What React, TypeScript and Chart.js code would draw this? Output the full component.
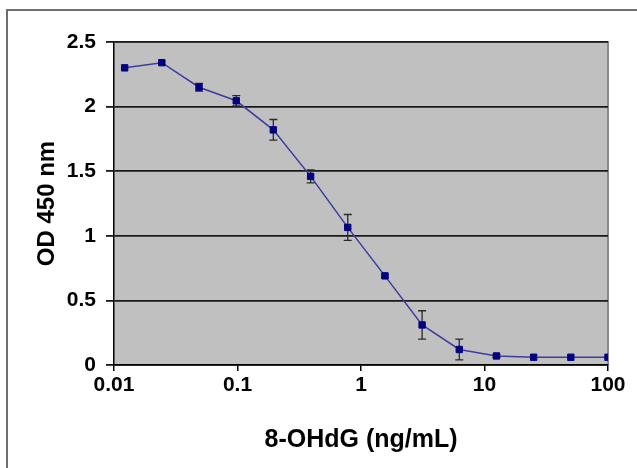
import React, { useEffect, useRef } from "react";
import { Chart, registerables } from "chart.js";

Chart.register(...registerables);

const concentrations = [0.0122, 0.0244, 0.0488, 0.0977, 0.195, 0.391, 0.781, 1.5625, 3.125, 6.25, 12.5, 25, 50, 100];
const odValues = [2.3, 2.34, 2.15, 2.045, 1.82, 1.46, 1.065, 0.69, 0.31, 0.12, 0.07, 0.06, 0.06, 0.06];
const odErrors = [0, 0, 0.03, 0.04, 0.08, 0.05, 0.1, 0.01, 0.11, 0.08, 0.01, 0, 0, 0];
const xTickValues = [0.01, 0.1, 1, 10, 100];
const xTickLabels = ["0.01", "0.1", "1", "10", "100"];

const FONT = "'Liberation Sans', Arial, sans-serif";

const framePlugin = {
  id: "frame",
  beforeDraw(chart: any) {
    const { ctx, chartArea } = chart;
    ctx.save();
    ctx.fillStyle = "#ffffff";
    ctx.fillRect(0, 0, chart.width, chart.height);
    // outer border (top & left visible)
    ctx.strokeStyle = "#6e6e6e";
    ctx.lineWidth = 2;
    ctx.beginPath();
    ctx.moveTo(7, chart.height);
    ctx.lineTo(7, 10);
    ctx.lineTo(chart.width, 10);
    ctx.stroke();
    // plot area
    ctx.fillStyle = "#c0c0c0";
    ctx.fillRect(chartArea.left, chartArea.top, chartArea.right - chartArea.left, chartArea.bottom - chartArea.top);
    ctx.strokeStyle = "#8a8a8a";
    ctx.lineWidth = 2;
    ctx.beginPath();
    ctx.moveTo(chartArea.left, chartArea.top);
    ctx.lineTo(chartArea.right, chartArea.top);
    ctx.lineTo(chartArea.right, chartArea.bottom);
    ctx.stroke();
    ctx.restore();
  },
};

const errorBarPlugin = {
  id: "errorBars",
  beforeDatasetsDraw(chart: any) {
    const { ctx } = chart;
    const xs = chart.scales.x;
    const ys = chart.scales.y;
    ctx.save();
    ctx.strokeStyle = "#2a2a2a";
    ctx.lineWidth = 1.3;
    concentrations.forEach((c, i) => {
      const e = odErrors[i];
      if (!e) return;
      const px = xs.getPixelForValue(c);
      const yt = ys.getPixelForValue(odValues[i] + e);
      const yb = ys.getPixelForValue(odValues[i] - e);
      ctx.beginPath();
      ctx.moveTo(px, yt);
      ctx.lineTo(px, yb);
      ctx.moveTo(px - 4, yt);
      ctx.lineTo(px + 4, yt);
      ctx.moveTo(px - 4, yb);
      ctx.lineTo(px + 4, yb);
      ctx.stroke();
    });
    ctx.restore();
  },
};

export default function App() {
  const ref = useRef<HTMLCanvasElement | null>(null);
  useEffect(() => {
    if (!ref.current) return;
    const chart = new Chart(ref.current, {
      type: "line",
      data: {
        datasets: [
          {
            data: concentrations.map((c, i) => ({ x: c, y: odValues[i] })),
            borderColor: "#3c3ca0",
            borderWidth: 1.5,
            pointStyle: "rect",
            pointRadius: 4.5,
            pointBorderWidth: 1,
            pointBackgroundColor: "#000080",
            pointBorderColor: "#000080",
            tension: 0,
          },
        ],
      },
      options: {
        animation: false,
        responsive: false,
        plugins: { legend: { display: false }, tooltip: { enabled: false } },
        layout: { padding: { left: 0, top: 42, right: 29, bottom: 0 } },
        scales: {
          x: {
            type: "logarithmic",
            min: 0.01,
            max: 100,
            afterBuildTicks: (scale: any) => {
              scale.ticks = xTickValues.map((v) => ({ value: v }));
            },
            afterFit: (scale: any) => {
              scale.height = 103;
            },
            ticks: {
              autoSkip: false,
              maxRotation: 0,
              padding: 2,
              color: "#000",
              font: { family: FONT, size: 21, weight: "bold" },
              callback: (v: any) => {
                const idx = xTickValues.indexOf(Number(v));
                return idx >= 0 ? xTickLabels[idx] : "";
              },
            },
            grid: { drawOnChartArea: false, drawTicks: true, tickLength: 6, color: "#000", lineWidth: 1.5 },
            border: { color: "#000", width: 1.5 },
            title: {
              display: true,
              text: "8-OHdG (ng/mL)",
              color: "#000",
              font: { family: FONT, size: 25, weight: "bold" },
              padding: { top: 0, bottom: 13 },
            },
          },
          y: {
            min: 0,
            max: 2.5,
            afterFit: (scale: any) => {
              scale.width = 114;
            },
            ticks: {
              stepSize: 0.5,
              padding: 10,
              color: "#000",
              font: { family: FONT, size: 21, weight: "bold" },
              callback: (v: any) => String(v),
            },
            grid: {
              tickLength: 8,
              color: "#1a1a1a",
              lineWidth: 1.8,
            },
            border: { color: "#000", width: 1.5 },
            title: {
              display: true,
              text: "OD 450 nm",
              color: "#000",
              font: { family: FONT, size: 24, weight: "bold" },
              padding: { top: 33, bottom: 0 },
            },
          },
        },
      },
      plugins: [framePlugin, errorBarPlugin],
    } as any);
    return () => chart.destroy();
  }, []);
  return (
    <div style={{ position: "fixed", left: 0, top: 0, width: 637, height: 468 }}>
      <canvas ref={ref} width={637} height={468} style={{ display: "block" }} />
    </div>
  );
}
